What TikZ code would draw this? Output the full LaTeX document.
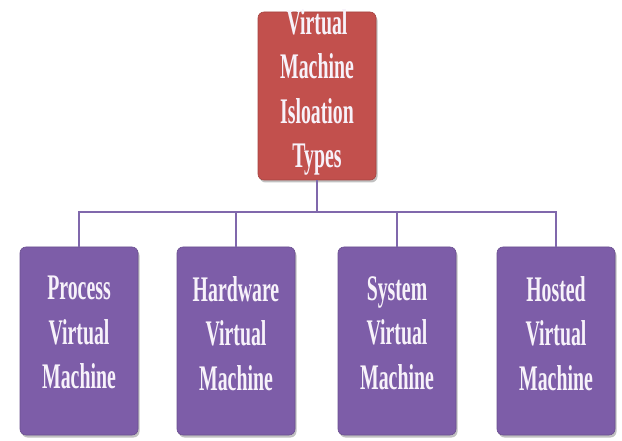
\documentclass[tikz,border=0pt]{standalone}
\usepackage{fontspec}
\setmainfont{Liberation Serif}
\newfontfamily\boxfont{Liberation Serif}[FakeStretch=0.55]
\usetikzlibrary{shadows}
\definecolor{vmred}{RGB}{194,80,77}
\definecolor{vmpurple}{RGB}{125,93,168}
\definecolor{vmline}{RGB}{128,104,172}
\definecolor{vmtext}{RGB}{247,242,250}
\tikzset{
  vmbox/.style={rounded corners=6pt, minimum width=118pt, inner sep=0pt,
    drop shadow={shadow xshift=1.5pt, shadow yshift=-2.5pt, opacity=0.35, fill=black!70}},
  topbox/.style={vmbox, fill=vmred, draw=vmred!85!black, line width=0.6pt, minimum height=168pt},
  leafbox/.style={vmbox, fill=vmpurple, draw=vmpurple!85!black, line width=0.6pt, minimum height=188pt},
  boxtext/.style={anchor=north, inner sep=0pt, align=center, text=vmtext,
    font=\boxfont\bfseries\fontsize{36}{44.5}\selectfont},
  conn/.style={draw=vmline, line width=2pt}
}
\begin{document}
\begin{tikzpicture}[x=1pt, y=-1pt]
  \useasboundingbox (0,0) rectangle (622,441);
  % root of the hierarchy
  \node[topbox] (root) at (317,96) {};
  % the four kinds of virtual machine
  \node[leafbox] (pvm) at (79,341) {};
  \node[leafbox] (hvm) at (236,341) {};
  \node[leafbox] (svm) at (397,341) {};
  \node[leafbox] (hsvm) at (556,341) {};
  % labels
  \node[boxtext] (roottxt) at (317,9) {Virtual\\Machine\\Isloation\\Types};
  \node[boxtext] (pvmtxt) at (79,276) {Process\\Virtual\\Machine};
  \node[boxtext] (hvmtxt) at (236,276) {Hardware\\Virtual\\Machine};
  \node[boxtext] (svmtxt) at (397,276) {System\\Virtual\\Machine};
  \node[boxtext] (hsvmtxt) at (556,276) {Hosted\\Virtual\\Machine};
  % tree connectors
  \coordinate (bus) at (317,212);
  \draw[conn] (root.south) -- (bus);
  \draw[conn] (pvm.north) -- (pvm.north |- bus) -- (hsvm.north |- bus) -- (hsvm.north);
  \draw[conn] (hvm.north) -- (hvm.north |- bus);
  \draw[conn] (svm.north) -- (svm.north |- bus);
\end{tikzpicture}
\end{document}
